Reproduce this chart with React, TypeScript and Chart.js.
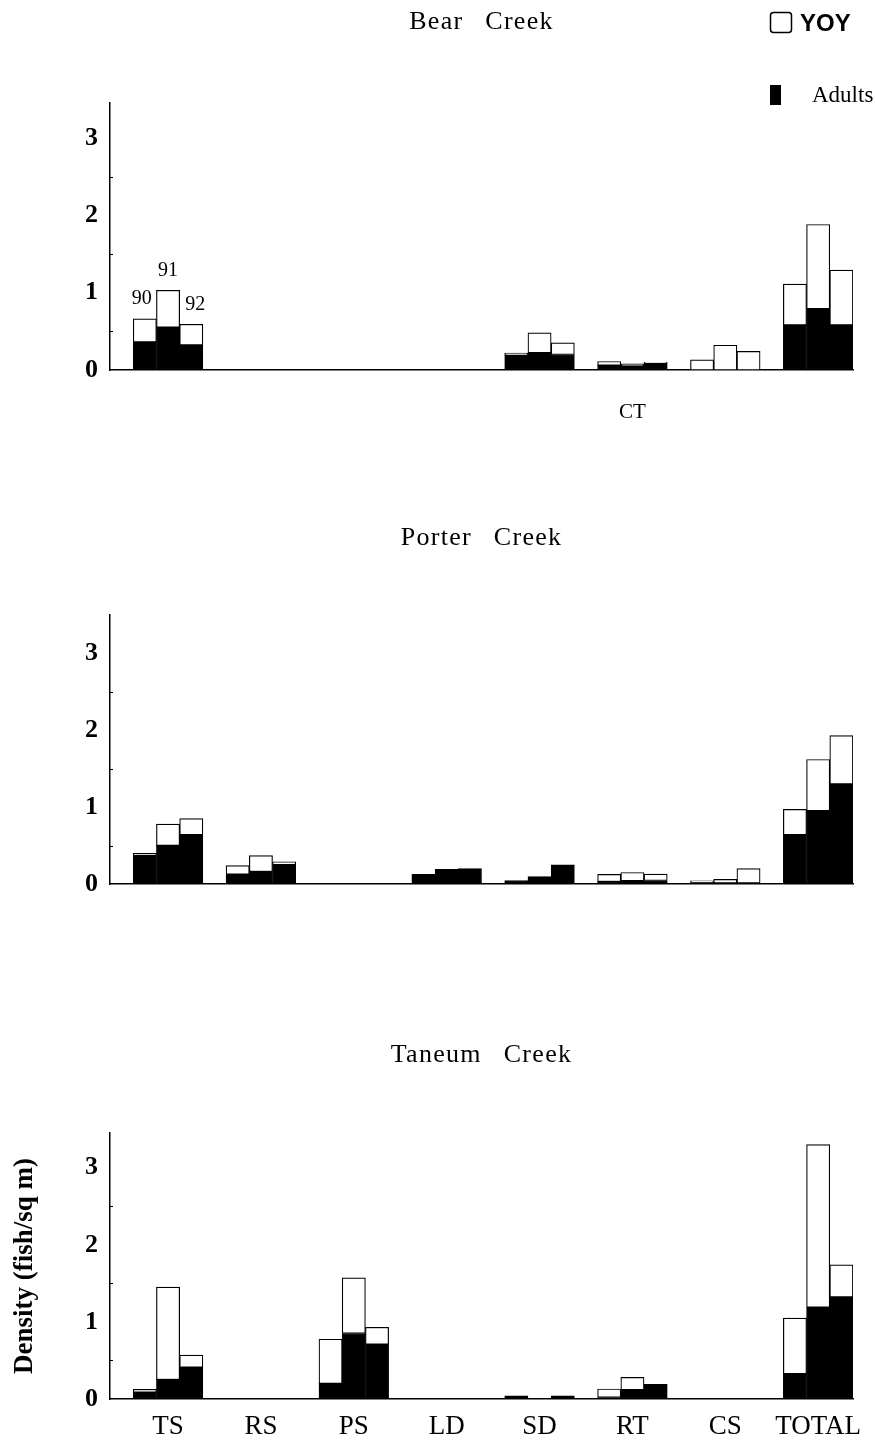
import React, { useEffect, useRef } from 'react';
import { Chart, registerables } from 'chart.js';

Chart.register(...registerables);

// ---------------- data ----------------
const categories = ['TS', 'RS', 'PS', 'LD', 'SD', 'RT', 'CS', 'TOTAL'];
const years = ['90', '91', '92'];
const yTicks = [0, 1, 2, 3];

// Density (fish/sq m); each row = one category, values for 1990, 1991, 1992
const bearAdults = [[0.36, 0.55, 0.32], [0, 0, 0], [0, 0, 0], [0, 0, 0], [0.19, 0.22, 0.2], [0.06, 0.05, 0.09], [0, 0, 0], [0.58, 0.79, 0.58]];
const bearYoy = [[0.3, 0.48, 0.27], [0, 0, 0], [0, 0, 0], [0, 0, 0], [0.03, 0.26, 0.15], [0.05, 0.03, 0.01], [0.13, 0.32, 0.24], [0.53, 1.09, 0.71]];

const porterAdults = [[0.365, 0.5, 0.64], [0.125, 0.16, 0.25], [0, 0, 0], [0.125, 0.19, 0.2], [0.045, 0.095, 0.25], [0.03, 0.04, 0.045], [0.02, 0.01, 0.01], [0.64, 0.95, 1.3]];
const porterYoy = [[0.035, 0.28, 0.21], [0.115, 0.21, 0.04], [0, 0, 0], [0, 0, 0], [0, 0, 0], [0.095, 0.11, 0.085], [0.02, 0.05, 0.19], [0.33, 0.67, 0.63]];

const taneumAdults = [[0.087, 0.25, 0.41], [0, 0, 0], [0.2, 0.85, 0.71], [0, 0, 0], [0.04, 0.01, 0.04], [0.02, 0.12, 0.19], [0, 0, 0], [0.325, 1.19, 1.32]];
const taneumYoy = [[0.038, 1.2, 0.16], [0, 0, 0], [0.575, 0.72, 0.22], [0, 0, 0], [0, 0, 0], [0.11, 0.16, 0], [0, 0, 0], [0.725, 2.11, 0.42]];

const bearAxisLabels = ['', '', '', '', '', 'CT', '', ''];
const porterAxisLabels = ['', '', '', '', '', '', '', ''];
const taneumAxisLabels = categories;

// ---------------- helpers ----------------
const SERIF = '"Liberation Serif", "Times New Roman", serif';

// one empty slot before each group of three yearly bars
function toSlots(rows: number[][]): (number | null)[] {
  const out: (number | null)[] = [];
  rows.forEach((r) => {
    out.push(null);
    r.forEach((v) => out.push(v));
  });
  return out;
}
const slotLabels = categories.flatMap((c) => [c + ' gap', ...years.map((y) => c + ' ' + y)]);

const decorPlugin = {
  id: 'decor',
  afterDraw(chart: any, _args: any, opts: any) {
    const ctx = chart.ctx as CanvasRenderingContext2D;
    const ca = chart.chartArea;
    ctx.save();
    ctx.fillStyle = '#000';
    ctx.strokeStyle = '#000';
    // panel title
    ctx.font = `26px ${SERIF}`;
    (ctx as any).letterSpacing = '1.3px';
    (ctx as any).wordSpacing = '14px';
    ctx.textAlign = 'center';
    ctx.textBaseline = 'middle';
    ctx.fillText(opts.title, (ca.left + ca.right) / 2, opts.titleY);
    (ctx as any).letterSpacing = '0px';
    (ctx as any).wordSpacing = '0px';

    // small half-unit tick marks on the y axis
    const ys = chart.scales.y;
    ctx.lineWidth = 1;
    for (let v = 0.5; v < ys.max; v += 1) {
      const py = Math.round(ys.getPixelForValue(v)) + 0.5;
      ctx.beginPath();
      ctx.moveTo(ca.left, py);
      ctx.lineTo(ca.left + 3, py);
      ctx.stroke();
    }

    if (opts.years) {
      const meta = chart.getDatasetMeta(1);
      const nudge = [-3, 0, 4];
      ctx.font = `20px ${SERIF}`;
      years.forEach((y, j) => {
        const el = meta.data[1 + j];
        if (!el) return;
        ctx.fillText(y, el.x + nudge[j], el.y - 20);
      });
    }

    if (opts.legend) {
      // YOY open box
      ctx.lineWidth = 1.5;
      ctx.beginPath();
      (ctx as any).roundRect(770.5, 12.5, 21, 20, 3);
      ctx.stroke();
      ctx.font = `bold 24px "Liberation Sans", Arial, sans-serif`;
      ctx.textAlign = 'left';
      ctx.fillText('YOY', 800, 24);
      // Adults filled box
      ctx.fillRect(770, 85, 11, 20);
      ctx.font = `23px ${SERIF}`;
      ctx.fillText('Adults', 812, 96);
    }
    ctx.restore();
  },
};

interface PanelParams {
  adults: number[][];
  yoy: number[][];
  axisLabels: string[];
  title: string;
  titleY: number;
  padTop: number;
  padBottom: number;
  xHeight: number;
  xPad: number;
  xFont: number;
  yMax: number;
  yTitle: boolean;
  legend: boolean;
  years: boolean;
}

function makeConfig(p: PanelParams): any {
  return {
    type: 'bar',
    data: {
      labels: slotLabels,
      datasets: [
        {
          label: 'Adults',
          data: toSlots(p.adults),
          backgroundColor: '#000',
          borderColor: '#000',
          borderWidth: 1,
          borderSkipped: false,
          stack: 's',
        },
        {
          label: 'YOY',
          data: toSlots(p.yoy),
          backgroundColor: '#fff',
          borderColor: '#000',
          borderWidth: 1.2,
          borderSkipped: false,
          stack: 's',
        },
      ],
    },
    options: {
      responsive: false,
      animation: false,
      devicePixelRatio: 1,
      layout: { padding: { top: p.padTop, left: 0, right: 22, bottom: p.padBottom } },
      datasets: { bar: { barPercentage: 1, categoryPercentage: 1 } },
      plugins: {
        legend: { display: false },
        tooltip: { enabled: false },
        title: { display: false },
        decor: { title: p.title, titleY: p.titleY, legend: p.legend, years: p.years },
      },
      scales: {
        x: {
          stacked: true,
          offset: true,
          grid: { display: false, drawTicks: false },
          border: { display: true, color: '#000', width: 1.5 },
          ticks: {
            autoSkip: false,
            maxRotation: 0,
            minRotation: 0,
            padding: p.xPad,
            color: '#000',
            font: { size: p.xFont, family: SERIF },
            callback: (_v: any, i: number) => (i % 4 === 2 ? p.axisLabels[(i - 2) / 4] : ''),
          },
          afterFit: (s: any) => {
            s.height = p.xHeight;
          },
        },
        y: {
          stacked: true,
          min: 0,
          max: p.yMax,
          grid: { display: false, drawTicks: false },
          border: { display: true, color: '#000', width: 1.5 },
          afterBuildTicks: (s: any) => {
            s.ticks = yTicks.map((v) => ({ value: v }));
          },
          ticks: {
            padding: 12,
            color: '#000',
            font: { size: 26, weight: 'bold', family: SERIF },
            callback: (v: any) => String(v),
          },
          title: {
            display: p.yTitle,
            text: 'Density (fish/sq m)',
            color: '#000',
            font: { size: 27, weight: 'bold', family: SERIF },
            padding: { top: 9, bottom: 0 },
          },
          afterFit: (s: any) => {
            s.width = 110;
          },
        },
      },
    },
    plugins: [decorPlugin],
  };
}

const panels: { top: number; height: number; params: PanelParams }[] = [
  {
    top: 0,
    height: 450,
    params: {
      adults: bearAdults, yoy: bearYoy, axisLabels: bearAxisLabels, title: 'Bear Creek', titleY: 22,
      padTop: 103, padBottom: 20, xHeight: 60, xPad: 30, xFont: 21, yMax: 3.45, yTitle: false, legend: true, years: true,
    },
  },
  {
    top: 450,
    height: 500,
    params: {
      adults: porterAdults, yoy: porterYoy, axisLabels: porterAxisLabels, title: 'Porter Creek', titleY: 88,
      padTop: 165, padBottom: 20, xHeight: 46, xPad: 12, xFont: 20, yMax: 3.5, yTitle: false, legend: false, years: false,
    },
  },
  {
    top: 950,
    height: 494,
    params: {
      adults: taneumAdults, yoy: taneumYoy, axisLabels: taneumAxisLabels, title: 'Taneum Creek', titleY: 105,
      padTop: 183, padBottom: 0, xHeight: 45, xPad: 12, xFont: 27, yMax: 3.45, yTitle: true, legend: false, years: false,
    },
  },
];

export default function App() {
  const refs = [useRef<HTMLCanvasElement>(null), useRef<HTMLCanvasElement>(null), useRef<HTMLCanvasElement>(null)];

  useEffect(() => {
    const charts: Chart[] = [];
    panels.forEach((pn, i) => {
      const c = refs[i].current;
      if (c) charts.push(new Chart(c, makeConfig(pn.params)));
    });
    return () => charts.forEach((ch) => ch.destroy());
  }, []);

  return (
    <div style={{ position: 'absolute', left: 0, top: 0, width: 875, height: 1444, background: '#fff', overflow: 'hidden' }}>
      {panels.map((pn, i) => (
        <canvas
          key={i}
          ref={refs[i]}
          width={875}
          height={pn.height}
          style={{ position: 'absolute', left: 0, top: pn.top, width: 875, height: pn.height, display: 'block' }}
        />
      ))}
    </div>
  );
}
